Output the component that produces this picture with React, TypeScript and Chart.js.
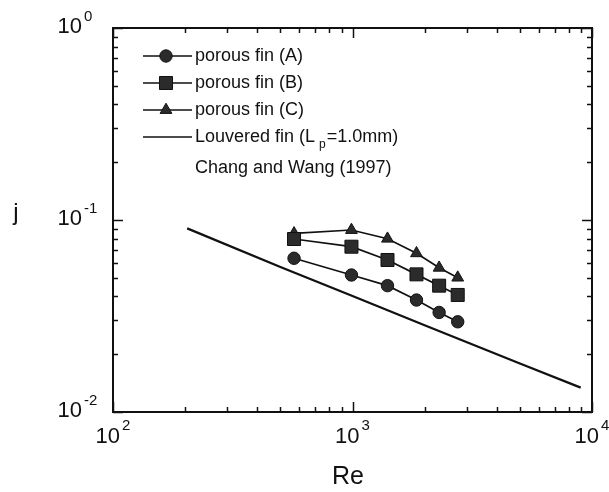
import React, { useEffect, useRef } from "react";
import { Chart, registerables } from "chart.js";

Chart.register(...registerables);

// ---- data ----
const reExp = [570, 990, 1400, 1850, 2300, 2750];
const jFinA = [0.0632, 0.0517, 0.0455, 0.0383, 0.033, 0.0295];
const jFinB = [0.0796, 0.0726, 0.0619, 0.0521, 0.0455, 0.0407];
const jFinC = [0.0852, 0.0887, 0.0799, 0.0671, 0.0564, 0.0501];
const reLouvered = [204, 500, 1000, 2000, 5000, 8970];
const jLouvered = [0.0905, 0.0569, 0.0402, 0.0283, 0.0179, 0.0134];

const seriesLabels = ["porous fin (A)", "porous fin (B)", "porous fin (C)"];
const louveredLabelMain = "Louvered fin (L";
const louveredLabelSub = "p";
const louveredLabelEnd = "=1.0mm)";
const louveredSource = "Chang and Wang (1997)";

const xTickExponents = [2, 3, 4];
const yTickExponents = [-2, -1, 0];
const xTitle = "Re";
const yTitle = "j";

const FONT = '"Liberation Sans", Arial, sans-serif';
const MARKER_FILL = "#2b2b2b";
const MARKER_EDGE = "#111";
const LINE = "#111";

type Marker = { style: "circle" | "rect" | "triangle"; radius: number };
const markers: Marker[] = [
  { style: "circle", radius: 6.2 },
  { style: "rect", radius: 9.2 },
  { style: "triangle", radius: 6.8 },
];

function drawMarker(ctx: CanvasRenderingContext2D, m: Marker, x: number, y: number) {
  ctx.save();
  ctx.fillStyle = MARKER_FILL;
  ctx.strokeStyle = MARKER_EDGE;
  ctx.lineWidth = 1;
  ctx.beginPath();
  if (m.style === "circle") {
    ctx.arc(x, y, m.radius, 0, Math.PI * 2);
  } else if (m.style === "rect") {
    const s = Math.SQRT1_2 * m.radius;
    ctx.rect(x - s, y - s, 2 * s, 2 * s);
  } else {
    const r = m.radius;
    ctx.moveTo(x, y - r);
    ctx.lineTo(x + r * Math.sin(Math.PI / 3), y + r * 0.5);
    ctx.lineTo(x - r * Math.sin(Math.PI / 3), y + r * 0.5);
    ctx.closePath();
  }
  ctx.fill();
  ctx.stroke();
  ctx.restore();
}

const framePlugin = {
  id: "frameAndLabels",
  afterDraw(chart: any) {
    const { ctx, chartArea } = chart;
    const { left, right, top, bottom } = chartArea;
    const xs = chart.scales.x;
    const ys = chart.scales.y;
    ctx.save();
    // frame
    ctx.strokeStyle = LINE;
    ctx.lineWidth = 2;
    ctx.strokeRect(left, top, right - left, bottom - top);

    // ticks (inward, mirrored)
    ctx.lineWidth = 1.5;
    const majorLen = 10;
    const minorLen = 5;
    const xMin = xTickExponents[0];
    const xMax = xTickExponents[xTickExponents.length - 1];
    for (let e = xMin; e <= xMax; e++) {
      const maxM = e === xMax ? 1 : 9;
      for (let m = 1; m <= maxM; m++) {
        const v = m * Math.pow(10, e);
        const px = Math.round(xs.getPixelForValue(v)) + 0.5;
        const len = m === 1 ? majorLen : minorLen;
        ctx.beginPath();
        ctx.moveTo(px, bottom);
        ctx.lineTo(px, bottom - len);
        ctx.moveTo(px, top);
        ctx.lineTo(px, top + len);
        ctx.stroke();
      }
    }
    const yMin = yTickExponents[0];
    const yMax = yTickExponents[yTickExponents.length - 1];
    for (let e = yMin; e <= yMax; e++) {
      const maxM = e === yMax ? 1 : 9;
      for (let m = 1; m <= maxM; m++) {
        const v = m * Math.pow(10, e);
        const py = Math.round(ys.getPixelForValue(v)) + 0.5;
        const len = m === 1 ? majorLen : minorLen;
        ctx.beginPath();
        ctx.moveTo(left, py);
        ctx.lineTo(left + len, py);
        ctx.moveTo(right, py);
        ctx.lineTo(right - len, py);
        ctx.stroke();
      }
    }

    // tick labels
    ctx.fillStyle = "#111";
    ctx.textBaseline = "alphabetic";
    const baseFont = `22px ${FONT}`;
    const supFont = `15px ${FONT}`;
    yTickExponents.forEach((e) => {
      const py = ys.getPixelForValue(Math.pow(10, e));
      ctx.font = baseFont;
      ctx.textAlign = "right";
      ctx.fillText("10", 82, py + 5);
      ctx.font = supFont;
      ctx.textAlign = "left";
      ctx.fillText(String(e), 84, py - 7);
    });
    xTickExponents.forEach((e) => {
      const px = xs.getPixelForValue(Math.pow(10, e));
      ctx.font = baseFont;
      const w1 = ctx.measureText("10").width;
      ctx.font = supFont;
      const w2 = ctx.measureText(String(e)).width;
      const start = px - (w1 + 2 + w2) / 2;
      ctx.textAlign = "left";
      ctx.font = baseFont;
      ctx.fillText("10", start, bottom + 31);
      ctx.font = supFont;
      ctx.fillText(String(e), start + w1 + 2, bottom + 18);
    });

    // axis titles
    ctx.textAlign = "center";
    ctx.textBaseline = "middle";
    ctx.font = `25px ${FONT}`;
    ctx.fillText(xTitle, 348, 477);
    ctx.font = `24px ${FONT}`;
    ctx.fillText(yTitle, 16, 213);

    // legend
    const lx0 = 143;
    const lx1 = 192;
    const lmx = 166;
    const tx = 195;
    const rows = [56, 83, 110, 137];
    const legFont = `18px ${FONT}`;
    ctx.textAlign = "left";
    ctx.textBaseline = "middle";
    ctx.font = legFont;
    for (let i = 0; i < 4; i++) {
      const y = rows[i];
      ctx.strokeStyle = LINE;
      ctx.lineWidth = 1.3;
      ctx.beginPath();
      ctx.moveTo(lx0, y);
      ctx.lineTo(lx1, y);
      ctx.stroke();
      if (i < 3) {
        drawMarker(ctx, markers[i], lmx, y);
        ctx.fillStyle = "#111";
        ctx.fillText(seriesLabels[i], tx, y);
      } else {
        ctx.fillStyle = "#111";
        ctx.fillText(louveredLabelMain, tx, y);
        let x = tx + ctx.measureText(louveredLabelMain).width + 4;
        ctx.font = `12px ${FONT}`;
        ctx.fillText(louveredLabelSub, x, y + 8);
        x += ctx.measureText(louveredLabelSub).width + 1;
        ctx.font = legFont;
        ctx.fillText(louveredLabelEnd, x, y);
      }
    }
    ctx.fillText(louveredSource, tx, 168);
    ctx.restore();
  },
};

function toPoints(xs: number[], ys: number[]) {
  return xs.map((x, i) => ({ x, y: ys[i] }));
}

export default function App() {
  const canvasRef = useRef<HTMLCanvasElement | null>(null);

  useEffect(() => {
    const canvas = canvasRef.current;
    if (!canvas) return;
    const seriesData = [jFinA, jFinB, jFinC];
    const datasets: any[] = seriesData.map((vals, i) => ({
      label: seriesLabels[i],
      data: toPoints(reExp, vals),
      borderColor: LINE,
      borderWidth: 1.7,
      backgroundColor: MARKER_FILL,
      pointStyle: markers[i].style,
      pointRadius: markers[i].radius,
      pointBorderColor: MARKER_EDGE,
      pointBorderWidth: 1,
      pointBackgroundColor: MARKER_FILL,
      tension: 0,
      order: 1,
    }));
    datasets.push({
      label: louveredLabelMain,
      data: toPoints(reLouvered, jLouvered),
      borderColor: LINE,
      borderWidth: 2.3,
      pointRadius: 0,
      tension: 0,
      order: 2,
    });

    const chart = new Chart(canvas, {
      type: "line",
      data: { datasets },
      options: {
        responsive: false,
        animation: false,
        devicePixelRatio: 1,
        layout: { padding: { left: 113, right: 17, top: 28, bottom: 80 } },
        plugins: {
          legend: { display: false },
          tooltip: { enabled: false },
          title: { display: false },
        },
        scales: {
          x: {
            type: "logarithmic",
            min: 100,
            max: 10000,
            grid: { display: false },
            border: { display: false },
            ticks: { display: false },
            afterFit: (s: any) => {
              s.height = 0;
            },
          },
          y: {
            type: "logarithmic",
            min: 0.01,
            max: 1,
            grid: { display: false },
            border: { display: false },
            ticks: { display: false },
            afterFit: (s: any) => {
              s.width = 0;
            },
          },
        },
      },
      plugins: [framePlugin],
    });
    return () => chart.destroy();
  }, []);

  return (
    <div style={{ position: "fixed", left: 0, top: 0, width: 609, height: 492, background: "#fff" }}>
      <canvas ref={canvasRef} width={609} height={492} style={{ width: 609, height: 492 }} />
    </div>
  );
}
